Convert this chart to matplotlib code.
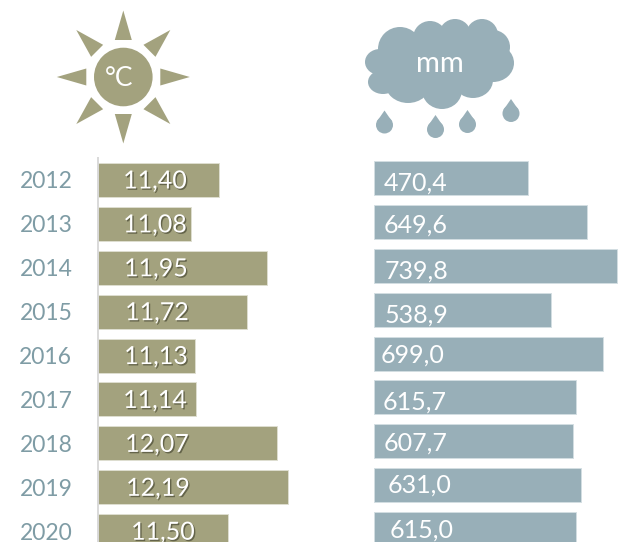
"""Temperature and rainfall per year, drawn as two bar panels under their icons."""

import matplotlib

matplotlib.use("Agg")
import matplotlib.patheffects as path_effects
import matplotlib.pyplot as plt
from matplotlib.patches import Circle, Ellipse, Polygon
import numpy as np

years = ["2012", "2013", "2014", "2015", "2016", "2017", "2018", "2019", "2020"]
temperature = [11.40, 11.08, 11.95, 11.72, 11.13, 11.14, 12.07, 12.19, 11.50]
rainfall = [470.4, 649.6, 739.8, 538.9, 699.0, 615.7, 607.7, 631.0, 615.0]

# hand placed labels, pixels from the axis and the row centre
temperature_dx = [57, 57, 58, 59, 58, 57, 59, 60, 65]
temperature_dy = [-1, -1, -1, -1, -1, -1, -1, -1, -1]
rainfall_dx = [42, 42, 43, 42, 39, 41, 42, 46, 48]
rainfall_dy = [-5, -3, -5, -5, -2, -5, -2, 0, -1]

WIDTH, HEIGHT = 625, 542
OLIVE = "#A3A27E"
BLUE = "#98AFB8"
YEAR_COLOR = "#7F9CA5"
FONT = "Lato"

plt.rcParams["font.family"] = FONT


def panel_axes(fig, left, right):
    ax = fig.add_axes([left / WIDTH, 0, (right - left) / WIDTH, (HEIGHT - 158) / HEIGHT])
    ax.set_ylim(8.246, -0.5)
    for spine in ax.spines.values():
        spine.set_visible(False)
    ax.set_xticks([])
    return ax


def label_bars(ax, values, dx, dy, fmt, effects=None):
    x0 = ax.get_xlim()[0]
    for i, value in enumerate(values):
        text = format(value, fmt).replace(".", ",")
        ax.annotate(text, xy=(x0, i), xytext=(dx[i], dy[i]), textcoords="offset pixels",
                    ha="center", va="center", color="white", fontsize=18,
                    path_effects=effects, annotation_clip=False)


def draw_sun(ax, cx, cy):
    ax.add_patch(Circle((cx, cy), 29.3, color=OLIVE, lw=0))
    for angle in np.deg2rad(np.arange(0, 360, 45)):
        ux, uy = np.cos(angle), np.sin(angle)
        ray = [
            (cx + 66.5 * ux, cy + 66.5 * uy),
            (cx + 37 * ux - 8.5 * uy, cy + 37 * uy + 8.5 * ux),
            (cx + 37 * ux + 8.5 * uy, cy + 37 * uy - 8.5 * ux),
        ]
        ax.add_patch(Polygon(ray, closed=True, color=OLIVE, lw=0))
    ax.text(cx - 4, cy + 2, "°C", color="white", fontsize=19, ha="center", va="center")


def draw_cloud(ax):
    lobes = [
        (380, 62, 15, 13), (383, 82, 15, 12), (400, 49, 22, 22), (430, 38, 17, 17),
        (455, 35, 16, 16), (482, 35, 16, 16), (493, 47, 17, 17), (493, 63, 21, 19),
        (473, 80, 20, 18), (442, 90, 20, 19), (408, 83, 23, 20), (440, 63, 57, 33),
    ]
    for x, y, rx, ry in lobes:
        ax.add_patch(Ellipse((x, y), 2 * rx, 2 * ry, color=BLUE, lw=0))
    ax.text(439.5, 64, "mm", color="white", fontsize=21, ha="center", va="center")


def draw_drop(ax, x, tip, radius=8.5):
    cy = tip + 14.5
    ax.add_patch(Circle((x, cy), radius, color=BLUE, lw=0))
    ax.add_patch(Polygon([(x, tip), (x - 0.93 * radius, cy - 0.36 * radius),
                          (x + 0.93 * radius, cy - 0.36 * radius)],
                         closed=True, color=BLUE, lw=0))


fig = plt.figure(figsize=(WIDTH / 100, HEIGHT / 100), dpi=100)

positions = np.arange(len(years))
bar_height = 0.775

left_ax = panel_axes(fig, 98, 310)
left_ax.set_xlim(10.014, 10.014 + 212 / 87.3)
left_ax.barh(positions, temperature, left=0, height=bar_height, color=OLIVE,
             edgecolor="#DEDED0", linewidth=0.7)
left_ax.spines["left"].set_visible(True)
left_ax.spines["left"].set_color("#D9D9D9")
left_ax.spines["left"].set_linewidth(1.4)
left_ax.set_yticks(positions, years, color=YEAR_COLOR, fontsize=16.5)
left_ax.tick_params(axis="y", length=0, pad=18.5)
shadow = [path_effects.withSimplePatchShadow(offset=(1, -1), shadow_rgbFace="#4A4A35", alpha=0.7)]
label_bars(left_ax, temperature, temperature_dx, temperature_dy, ".2f", shadow)

right_ax = panel_axes(fig, 374, 625)
right_ax.set_xlim(0, 251 / 0.328)
# this panel sits about two pixels higher than the left one
right_ax.set_ylim(8.246 + 2 / 43.9, -0.5 + 2 / 43.9)
right_ax.barh(positions, rainfall, height=bar_height, color=BLUE,
              edgecolor="#D3DEE2", linewidth=0.7)
right_ax.set_yticks([])
label_bars(right_ax, rainfall, rainfall_dx, rainfall_dy, ".1f")

icons = fig.add_axes([0, 0, 1, 1])
icons.set_xlim(0, WIDTH)
icons.set_ylim(HEIGHT, 0)
icons.axis("off")
icons.patch.set_alpha(0)
draw_sun(icons, 123.3, 77)
draw_cloud(icons)
draw_drop(icons, 384.5, 110.5)
draw_drop(icons, 435.5, 115)
draw_drop(icons, 467.5, 110)
draw_drop(icons, 511, 99)

fig.savefig("out.png", dpi=100)
plt.close(fig)
